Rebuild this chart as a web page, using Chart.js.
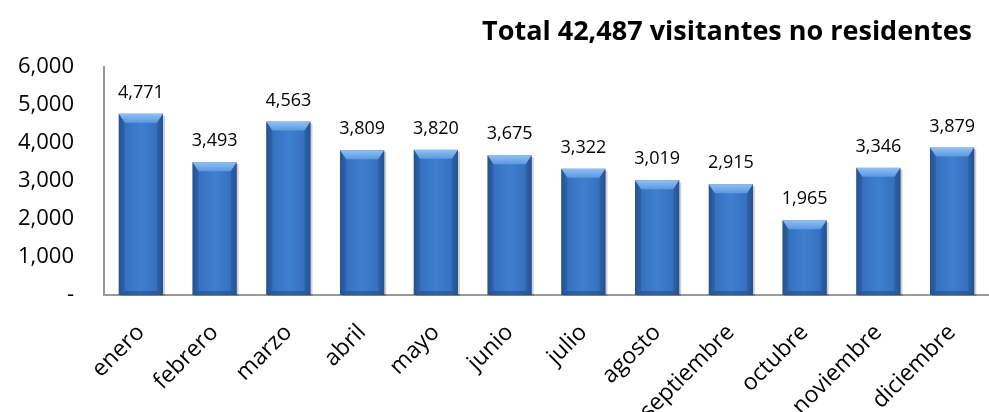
<!DOCTYPE html>
<html>
<head>
<meta charset="utf-8">
<script src="https://cdn.jsdelivr.net/npm/chart.js@4.4.1/dist/chart.umd.min.js"></script>
<style>
html,body{margin:0;padding:0;background:#fff;}
#wrap{width:989px;height:412px;position:relative;}
</style>
</head>
<body>
<div id="wrap"><canvas id="c" width="989" height="412"></canvas></div>
<script>
const titleText = "Total 42,487 visitantes no residentes";
const categories = ["enero","febrero","marzo","abril","mayo","junio","julio","agosto","septiembre","octubre","noviembre","diciembre"];
const visitors = [4771,3493,4563,3809,3820,3675,3322,3019,2915,1965,3346,3879];
const yTicks = [0,1000,2000,3000,4000,5000,6000];

const FONT = "'Open Sans', sans-serif";

const titleDraw = {
  id: 'titleDraw',
  afterDraw(chart) {
    const ctx = chart.ctx;
    ctx.save();
    ctx.fillStyle = '#000';
    ctx.font = "bold 27px " + FONT;
    ctx.textAlign = 'right';
    ctx.textBaseline = 'middle';
    ctx.fillText(titleText, 972, 32);
    ctx.restore();
  }
};

const barStyle = {
  id: 'barStyle',
  afterDatasetsDraw(chart) {
    const ctx = chart.ctx;
    const meta = chart.getDatasetMeta(0);
    meta.data.forEach((bar, i) => {
      const {x, y, base, width} = bar.getProps(['x','y','base','width'], true);
      const l = x - width/2, r = x + width/2, t = y, b = base;
      ctx.save();
      ctx.fillStyle = 'rgba(0,0,0,0.18)';
      ctx.fillRect(l + 2, t + 2, width, b - t - 1);
      const g = ctx.createLinearGradient(l, 0, r, 0);
      g.addColorStop(0, '#2a5a9a');
      g.addColorStop(0.12, '#3570bd');
      g.addColorStop(0.5, '#3f7fd0');
      g.addColorStop(0.88, '#3570bd');
      g.addColorStop(1, '#2a5a9a');
      ctx.fillStyle = g;
      ctx.fillRect(l, t, width, b - t);
      const bev = 9;
      const tg = ctx.createLinearGradient(0, t, 0, t + bev);
      tg.addColorStop(0, '#8ec0f5');
      tg.addColorStop(1, '#5b98e0');
      ctx.fillStyle = tg;
      ctx.beginPath();
      ctx.moveTo(l, t); ctx.lineTo(r, t); ctx.lineTo(r - 6, t + bev); ctx.lineTo(l + 6, t + bev); ctx.closePath();
      ctx.fill();
      ctx.fillStyle = 'rgba(30,70,130,0.35)';
      ctx.beginPath();
      ctx.moveTo(l, t); ctx.lineTo(l + 6, t + bev); ctx.lineTo(l + 6, b - 4); ctx.lineTo(l, b); ctx.closePath(); ctx.fill();
      ctx.beginPath();
      ctx.moveTo(r, t); ctx.lineTo(r - 6, t + bev); ctx.lineTo(r - 6, b - 4); ctx.lineTo(r, b); ctx.closePath(); ctx.fill();
      ctx.fillStyle = 'rgba(20,50,100,0.35)';
      ctx.beginPath();
      ctx.moveTo(l, b); ctx.lineTo(l + 6, b - 4); ctx.lineTo(r - 6, b - 4); ctx.lineTo(r, b); ctx.closePath(); ctx.fill();
      ctx.fillStyle = '#000';
      ctx.font = "18px " + FONT;
      ctx.textAlign = 'center';
      ctx.textBaseline = 'middle';
      ctx.fillText(visitors[i].toLocaleString('en-US'), x, t - 21);
      ctx.restore();
    });
  }
};

new Chart(document.getElementById('c'), {
  type: 'bar',
  data: {
    labels: categories,
    datasets: [{
      data: visitors,
      backgroundColor: 'rgba(0,0,0,0)',
      borderWidth: 0,
      barPercentage: 0.6,
      categoryPercentage: 1.0
    }]
  },
  options: {
    responsive: false,
    animation: false,
    layout: { padding: { left: 0, right: 0, top: 67, bottom: 0 } },
    plugins: {
      legend: { display: false },
      tooltip: { enabled: false },
      title: { display: false }
    },
    scales: {
      x: {
        grid: { display: false, drawTicks: false },
        border: { display: true, color: '#999', width: 2 },
        ticks: {
          color: '#000',
          font: { family: FONT, size: 23 },
          minRotation: 45,
          maxRotation: 45,
          padding: 24,
          autoSkip: false
        },
        afterFit(s) { s.height = 117; s.paddingRight = 0; s.paddingLeft = 0; }
      },
      y: {
        min: 0,
        max: 6000,
        afterBuildTicks(s) { s.ticks = yTicks.map(v => ({ value: v })); },
        grid: { display: false, drawTicks: false },
        border: { display: true, color: '#999', width: 2 },
        ticks: {
          color: '#000',
          font: { family: FONT, size: 22 },
          padding: 30,
          callback: v => v === 0 ? '-' : v.toLocaleString('en-US')
        },
        afterFit(s) { s.width = 104; }
      }
    }
  },
  plugins: [barStyle, titleDraw]
});
</script>
</body>
</html>
